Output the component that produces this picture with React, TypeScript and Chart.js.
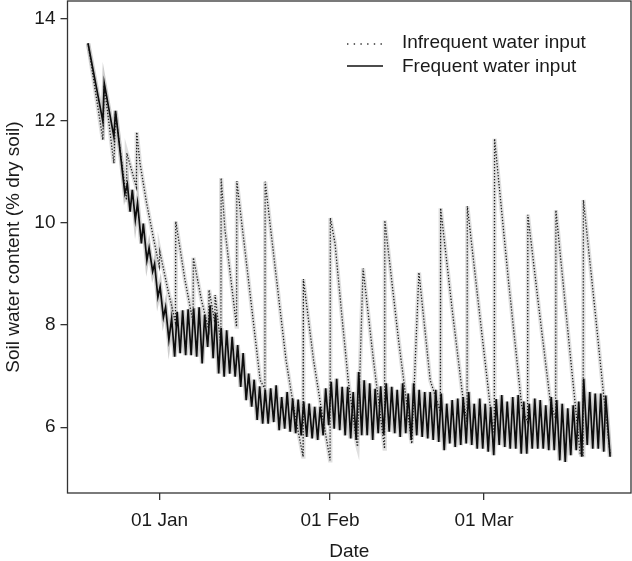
import React, { useEffect, useRef } from "react";
import { Chart, registerables } from "chart.js";

Chart.register(...registerables);

// Days are counted from 01 Jan (day 0)
const xTickDays = [0, 31, 59];
const xTickLabels = ["01 Jan", "01 Feb", "01 Mar"];
const yTicks = [6, 8, 10, 12, 14];
const seriesLabels = ["Infrequent water input", "Frequent water input"];
const xTitle = "Date";
const yTitle = "Soil water content (% dry soil)";

const infreqDays = [
  -13.0, -10.3, -10.05, -8.3, -8.0, -6.0, -5.95, -4.2, -4.15, -3.55, -2.35, -1.15,
  -0.05, 0.05, 1.5, 2.9, 2.95, 4.6, 6.1, 6.15, 7.6, 8.95, 9.0, 10.05, 10.1, 11.15,
  11.2, 11.9, 14.0, 14.05, 16.2, 18.3, 19.15, 19.2, 21.1, 23.0, 24.6, 26.1, 26.15,
  28.0, 29.5, 31.0, 31.05, 31.9, 33.1, 34.3, 35.85, 36.0, 37.0, 38.9, 40.9, 40.95,
  43.4, 45.85, 47.15, 49.2, 51.05, 51.1, 53.2, 55.2, 55.9, 55.95, 58.2, 60.4, 60.85,
  60.9, 63.4, 65.85, 66.9, 66.95, 69.0, 71.0, 72.0, 72.05, 74.3, 76.45, 77.0, 77.05,
  79.0, 80.7, 81.9,
];
const infreqVals = [
  13.52, 11.63, 12.7, 11.17, 12.15, 10.45, 11.37, 10.7, 11.78, 11.17, 10.39, 9.73,
  9.15, 9.44, 8.7, 8.05, 10.03, 8.9, 8.05, 9.32, 8.5, 7.9, 8.69, 8.05, 8.59, 7.6,
  10.88, 9.86, 7.97, 10.82, 8.85, 6.92, 6.75, 10.81, 9.05, 7.31, 6.25, 5.42, 8.9,
  7.31, 6.3, 5.35, 10.1, 9.6, 8.23, 6.92, 5.68, 5.62, 9.11, 7.3, 5.58, 10.05,
  7.75, 5.68, 9.03, 6.92, 6.3, 10.29, 8.3, 6.53, 6.1, 10.33, 8.2, 6.14, 5.88,
  11.65, 8.9, 6.4, 6.1, 10.16, 8.3, 6.53, 6.15, 10.25, 7.8, 5.49, 5.45, 10.45,
  8.45, 6.66, 5.48,
];

const freqDays = [
  -13.0, -10.3, -10.05, -8.3, -8.0, -6.3, -5.85, -5.35, -4.95, -4.4, -4.0, -3.3,
  -2.95, -2.3, -1.9, -1.25, -0.9, -0.3, 0.1, 0.7, 1.1, 1.7,
  2.2, 2.75, 3.2, 3.75, 4.2, 4.75, 5.2, 5.75, 6.2, 6.75, 7.2, 7.75, 8.2, 8.75,
  9.2, 9.75, 10.2, 10.75, 11.2, 11.75, 12.2, 12.75, 13.2, 13.75, 14.2, 14.75,
  15.2, 15.75, 16.2, 16.75, 17.2, 17.75, 18.2, 18.75, 19.2, 19.75, 20.2, 20.75,
  21.2, 21.75, 22.2, 22.75, 23.2, 23.75, 24.2, 24.75, 25.2, 25.75, 26.2, 26.75,
  27.2, 27.75, 28.2, 28.75, 29.2, 29.75, 30.2, 30.75, 31.2, 31.75, 32.2, 32.75,
  33.2, 33.75, 34.2, 34.75, 35.2, 35.75, 36.2, 36.75, 37.2, 37.75, 38.2, 38.75,
  39.2, 39.75, 40.2, 40.75, 41.2, 41.75, 42.2, 42.75, 43.2, 43.75, 44.2, 44.75,
  45.2, 45.75, 46.2, 46.75, 47.2, 47.75, 48.2, 48.75, 49.2, 49.75, 50.2, 50.75,
  51.2, 51.75, 52.2, 52.75, 53.2, 53.75, 54.2, 54.75, 55.2, 55.75, 56.2, 56.75,
  57.2, 57.75, 58.2, 58.75, 59.2, 59.75, 60.2, 60.75, 61.2, 61.75, 62.2, 62.75,
  63.2, 63.75, 64.2, 64.75, 65.2, 65.75, 66.2, 66.75, 67.2, 67.75, 68.2, 68.75,
  69.2, 69.75, 70.2, 70.75, 71.2, 71.75, 72.2, 72.75, 73.2, 73.75, 74.2, 74.75,
  75.2, 75.75, 76.2, 76.75, 77.1, 77.75, 78.2, 78.75, 79.2, 79.75, 80.2, 80.75,
  81.1, 81.9,
];
const freqVals = [
  13.52, 11.99, 12.74, 11.69, 12.2, 10.58, 10.76, 10.22, 10.65, 10.06, 10.39, 9.6,
  9.99, 9.27, 9.51, 9.05, 9.2, 8.55, 8.75, 8.15, 8.35, 7.71,
  8.13, 7.38, 8.26, 7.45, 8.29, 7.41, 8.31, 7.41, 8.33, 7.38, 8.35, 7.25, 8.2, 7.57,
  8.39, 7.35, 8.23, 7.05, 7.94, 6.99, 7.9, 7.05, 7.77, 6.99, 7.61, 6.79,
  7.45, 6.53, 7.05, 6.4, 6.93, 6.14, 6.8, 6.07, 6.73, 6.07, 6.76, 6.1,
  6.82, 5.94, 6.59, 5.97, 6.69, 5.91, 6.56, 5.88, 6.54, 5.84, 6.5, 5.81,
  6.46, 5.78, 6.4, 5.75, 6.4, 5.84, 6.76, 6.04, 6.89, 5.97, 6.95, 5.94,
  6.79, 5.84, 6.79, 5.78, 6.69, 5.75, 7.08, 5.84, 6.92, 5.84, 6.86, 5.75,
  6.75, 5.88, 6.8, 5.85, 6.86, 5.91, 6.79, 5.88, 6.73, 5.81, 6.86, 5.88,
  6.66, 5.75, 6.86, 5.84, 6.73, 5.81, 6.69, 5.78, 6.69, 5.75, 6.73, 5.71,
  6.66, 5.55, 6.46, 5.68, 6.53, 5.61, 6.56, 5.65, 6.59, 5.68, 6.69, 5.65,
  6.46, 5.58, 6.56, 5.58, 6.46, 5.52, 6.4, 5.45, 6.55, 5.65, 6.63, 5.61,
  6.5, 5.58, 6.59, 5.58, 6.63, 5.48, 6.5, 5.48, 6.46, 5.58, 6.56, 5.58,
  6.53, 5.58, 6.43, 5.55, 6.59, 5.55, 6.53, 5.35, 6.46, 5.32, 6.37, 5.45,
  6.43, 5.55, 6.5, 5.42, 6.95, 5.65, 6.69, 5.58, 6.66, 5.58, 6.66, 5.52,
  6.62, 5.42,
];

const FONT = "'Liberation Sans', Arial, Helvetica, sans-serif";
const TEXT = "#1a1a1a";
const AXIS = "#333333";

const toPts = (xs: number[], ys: number[]) => xs.map((x, i) => ({ x, y: ys[i] }));

const framePlugin = {
  id: "frameAndLegend",
  afterDraw(chart: any) {
    const { ctx, chartArea: a } = chart;
    ctx.save();
    ctx.strokeStyle = AXIS;
    ctx.lineWidth = 1.3;
    ctx.setLineDash([]);
    ctx.strokeRect(a.left, a.top, a.right - a.left, a.bottom - a.top);

    // legend
    const x0 = 347, x1 = 383, tx = 402;
    const rows = [44, 66];
    ctx.font = `19px ${FONT}`;
    ctx.fillStyle = TEXT;
    ctx.textBaseline = "middle";
    ctx.textAlign = "left";
    ctx.strokeStyle = "#333";
    ctx.lineWidth = 1.3;
    ctx.setLineDash([1.4, 5.3]);
    ctx.beginPath();
    ctx.moveTo(x0, rows[0]);
    ctx.lineTo(x1, rows[0]);
    ctx.stroke();
    ctx.setLineDash([]);
    ctx.strokeStyle = "#111";
    ctx.lineWidth = 1.6;
    ctx.beginPath();
    ctx.moveTo(x0, rows[1]);
    ctx.lineTo(x1, rows[1]);
    ctx.stroke();
    ctx.fillText(seriesLabels[0], tx, rows[0] - 1);
    ctx.fillText(seriesLabels[1], tx, rows[1] + 1);
    ctx.restore();
  },
};

export default function App() {
  const ref = useRef<HTMLCanvasElement | null>(null);

  useEffect(() => {
    if (!ref.current) return;
    const infPts = toPts(infreqDays, infreqVals);
    const frqPts = toPts(freqDays, freqVals);
    const chart = new Chart(ref.current, {
      type: "line",
      data: {
        datasets: [
          {
            label: seriesLabels[1],
            data: frqPts,
            borderColor: "#0d0d0d",
            borderWidth: 1.7,
            pointRadius: 0,
            tension: 0,
            order: 0,
          },
          {
            label: seriesLabels[0],
            data: infPts,
            borderColor: "#1e1e1e",
            borderWidth: 1.3,
            borderDash: [1.3, 1.7],
            pointRadius: 0,
            tension: 0,
            order: 1,
          },
          {
            label: "band-frequent",
            data: frqPts,
            borderColor: "rgba(190,190,190,0.75)",
            borderWidth: 4.5,
            pointRadius: 0,
            tension: 0,
            order: 2,
          },
          {
            label: "band-infrequent",
            data: infPts,
            borderColor: "rgba(210,210,210,0.7)",
            borderWidth: 4.2,
            pointRadius: 0,
            tension: 0,
            order: 3,
          },
        ],
      },
      options: {
        responsive: false,
        animation: false,
        layout: { padding: { top: 1, right: 1, left: 0, bottom: 0 } },
        plugins: {
          legend: { display: false },
          tooltip: { enabled: false },
        },
        scales: {
          x: {
            type: "linear",
            min: -16.73,
            max: 85.7,
            afterBuildTicks: (s: any) => {
              s.ticks = xTickDays.map((v) => ({ value: v }));
            },
            afterFit: (s: any) => {
              s.height = 68;
              s.paddingLeft = 0;
              s.paddingRight = 0;
            },
            ticks: {
              autoSkip: false,
              maxRotation: 0,
              padding: 9,
              color: TEXT,
              font: { family: FONT, size: 19 },
              callback: (v: any) => {
                const i = xTickDays.indexOf(Number(v));
                return i >= 0 ? xTickLabels[i] : "";
              },
            },
            grid: {
              drawOnChartArea: false,
              drawTicks: true,
              tickLength: 7,
              color: AXIS,
              lineWidth: 1.3,
            },
            border: { display: false },
            title: {
              display: true,
              text: xTitle,
              color: TEXT,
              font: { family: FONT, size: 19, lineHeight: 1 },
              padding: { top: 0, bottom: 0 },
            },
          },
          y: {
            type: "linear",
            min: 4.71,
            max: 14.35,
            afterBuildTicks: (s: any) => {
              s.ticks = yTicks.map((v) => ({ value: v }));
            },
            afterFit: (s: any) => {
              s.width = 67.5;
              s.paddingTop = 0;
              s.paddingBottom = 0;
            },
            ticks: {
              padding: 5,
              color: TEXT,
              font: { family: FONT, size: 19 },
              callback: (v: any) => String(v),
            },
            grid: {
              drawOnChartArea: false,
              drawTicks: true,
              tickLength: 7,
              color: AXIS,
              lineWidth: 1.3,
            },
            border: { display: false },
            title: {
              display: true,
              text: yTitle,
              color: TEXT,
              font: { family: FONT, size: 19, lineHeight: 1 },
              padding: { top: 4.5, bottom: 0 },
            },
          },
        },
      },
      plugins: [framePlugin],
    });
    return () => chart.destroy();
  }, []);

  return (
    <div style={{ position: "absolute", left: 0, top: 0, width: 632, height: 561, background: "#fff" }}>
      <canvas ref={ref} width={632} height={561} style={{ display: "block" }} />
    </div>
  );
}
